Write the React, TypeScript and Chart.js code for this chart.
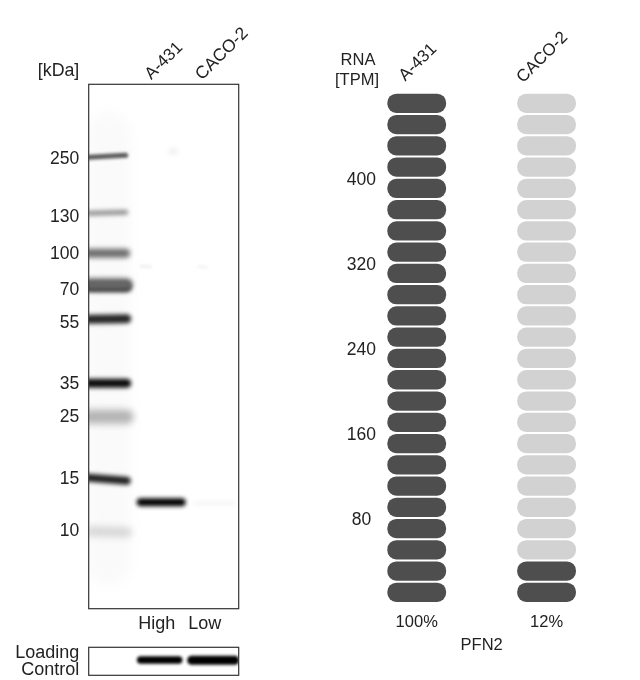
import React, { useEffect, useRef } from "react";
import { Chart, registerables } from "chart.js";

Chart.register(...registerables);

// ---- Western blot data (migration distance down the membrane, lane position across it)
const kdaLabels = ["250", "130", "100", "70", "55", "35", "25", "15", "10"];
const kdaMigration = [73.7, 131.7, 168.4, 204.7, 237.4, 298.7, 331.4, 394, 445.7];
const loadLanes = ["High", "Low"];
const loadLanePositions = [68, 116];

const bandNames = ["250", "130", "100", "70a", "70b", "55", "35", "25", "15", "10", "PFN2 A-431", "PFN2 CACO-2", "88a", "88b", "spot", "smear"];
const bandStart = [0, 0, 0, 0, 0, 0, 0, 0, 0, 2, 52, 106, 52, 110, 83, 20];
const bandEnd = [37, 37, 37, 38, 38, 38, 38, 38, 38, 38, 93, 146, 62, 118, 86, 20];
const bandTopLeft = [73, 129, 169, 200, 203, 235, 299, 332.5, 393.5, 447, 418, 419, 182, 182, 67, 50];
const bandTopRight = [71, 128, 169, 200, 203, 234.5, 299, 332.5, 396.5, 448, 418, 419, 182.5, 183, 67, 480];

const loadStart = [52, 103];
const loadEnd = [90, 146];
const loadMigration = [12.7, 13];

// ---- RNA data
const cellLines = ["A-431", "CACO-2"];
const rnaTpm = [480, 40];
const rnaPercent = ["100%", "12%"];
const pillTpm = 20;
const pillCount = 24;
const rnaTicks = [80, 160, 240, 320, 400];

// ---- Styles (by band index)
const bandWidths = [5, 5, 9, 12, 9, 9, 9, 14, 8, 10, 8, 2.5, 2.5, 2.5, 7, 44];
const bandShades = ["#5a5a5a", "#929292", "#6e6e6e", "#666666", "#222222", "#262626", "#0c0c0c", "#b4b4b4", "#202020", "#d6d6d6", "#000000", "#f0f0f0", "#ececec", "#f2f2f2", "#f2f2f2", "#fafafa"];
const bandBlur = [1.5, 2, 2.5, 2.5, 2, 2, 2, 3.5, 2, 3.5, 1.9, 2, 1.5, 1.5, 2, 6];

const FONT = "'Liberation Sans', Arial, sans-serif";
const TEXT = "#222222";

type Txt = { t: string; x: number; y: number; size?: number; align?: CanvasTextAlign; rot?: number };

const textPlugin = {
  id: "textOverlay",
  afterDraw(chart: any, _a: any, opts: any) {
    const { ctx } = chart;
    (opts.items as Txt[]).forEach((it) => {
      ctx.save();
      ctx.font = `${it.size || 16.5}px ${FONT}`;
      ctx.fillStyle = TEXT;
      ctx.textBaseline = "middle";
      ctx.textAlign = it.align || "center";
      ctx.translate(it.x, it.y);
      if (it.rot) ctx.rotate((it.rot * Math.PI) / 180);
      ctx.fillText(it.t, 0, 0);
      ctx.restore();
    });
  },
};

const framePlugin = {
  id: "panelFrame",
  afterDraw(chart: any) {
    const { ctx, chartArea: a } = chart;
    ctx.save();
    ctx.strokeStyle = "#333333";
    ctx.lineWidth = 1.2;
    ctx.strokeRect(a.left, a.top, a.right - a.left, a.bottom - a.top);
    ctx.restore();
  },
};

const blurPlugin = {
  id: "bandBlur",
  beforeDatasetDraw(chart: any, args: any) {
    const b = chart.data.datasets[args.index].blur;
    chart.ctx.save();
    chart.ctx.filter = `blur(${b}px)`;
  },
  afterDatasetDraw(chart: any) {
    chart.ctx.restore();
  },
};

const font = (size: number) => ({ family: FONT, size });

function useChart(make: (c: HTMLCanvasElement) => Chart) {
  const ref = useRef<HTMLCanvasElement>(null);
  useEffect(() => {
    document.body.style.margin = "0";
    const c = make(ref.current!);
    return () => c.destroy();
  }, []);
  return ref;
}

function blotChart(canvas: HTMLCanvasElement) {
  return new Chart(canvas, {
    type: "line",
    data: {
      datasets: bandNames.map((label, i) => ({
        label,
        data: [
          { x: bandStart[i], y: bandTopLeft[i] },
          { x: bandEnd[i], y: bandTopRight[i] },
        ],
        borderColor: bandShades[i],
        borderWidth: bandWidths[i],
        borderCapStyle: "round" as const,
        pointRadius: 0,
        blur: bandBlur[i],
      })) as any,
    },
    plugins: [blurPlugin, framePlugin, textPlugin],
    options: {
      animation: false,
      responsive: false,
      layout: { padding: { left: 0, right: 61.3, top: 84.3, bottom: 0 } },
      scales: {
        x: {
          type: "linear",
          min: 0,
          max: 150,
          grid: { display: false, drawTicks: false },
          border: { display: false },
          afterBuildTicks: (s: any) => {
            s.ticks = loadLanePositions.map((value) => ({ value }));
          },
          afterFit: (s: any) => {
            s.height = 31.3;
          },
          ticks: {
            autoSkip: false,
            maxRotation: 0,
            padding: 5,
            font: font(18),
            color: TEXT,
            callback: (_v: any, i: number) => loadLanes[i],
          },
        },
        y: {
          type: "linear",
          reverse: true,
          min: 0,
          max: 524.4,
          grid: { display: false, drawTicks: false },
          border: { display: false },
          afterBuildTicks: (s: any) => {
            s.ticks = kdaMigration.map((value) => ({ value }));
          },
          afterFit: (s: any) => {
            s.width = 88.7;
          },
          ticks: {
            autoSkip: false,
            padding: 9.4,
            labelOffset: 1.2,
            font: font(17.5),
            color: TEXT,
            callback: (_v: any, i: number) => kdaLabels[i],
          },
        },
      },
      plugins: {
        legend: { display: false },
        tooltip: { enabled: false },
        textOverlay: {
          items: [
            { t: "[kDa]", x: 79.3, y: 71, align: "right", size: 17.8 },
            { t: cellLines[0], x: 164, y: 61, rot: -45, size: 17 },
            { t: cellLines[1], x: 222, y: 54, rot: -45, size: 17.5 },
          ],
        },
      } as any,
    },
  } as any);
}

function loadingChart(canvas: HTMLCanvasElement) {
  return new Chart(canvas, {
    type: "line",
    data: {
      datasets: loadLanes.map((label, i) => ({
        label,
        data: [
          { x: loadStart[i], y: loadMigration[i] },
          { x: loadEnd[i], y: loadMigration[i] },
        ],
        borderColor: "#000000",
        borderWidth: i === 0 ? 7.5 : 9,
        borderCapStyle: "round" as const,
        pointRadius: 0,
        blur: 1.8,
      })) as any,
    },
    plugins: [blurPlugin, framePlugin, textPlugin],
    options: {
      animation: false,
      responsive: false,
      layout: { padding: { left: 88.7, right: 61.3, top: 7.3, bottom: 4.7 } },
      scales: {
        x: { type: "linear", min: 0, max: 150, display: false },
        y: { type: "linear", reverse: true, min: 0, max: 28, display: false },
      },
      plugins: {
        legend: { display: false },
        tooltip: { enabled: false },
        textOverlay: {
          items: [
            { t: "Loading", x: 79.3, y: 13.5, align: "right", size: 18 },
            { t: "Control", x: 79.3, y: 30.5, align: "right", size: 18 },
          ],
        },
      } as any,
    },
  } as any);
}

function rnaChart(canvas: HTMLCanvasElement) {
  const datasets = Array.from({ length: pillCount }, (_, k) => ({
    label: `pill ${k + 1}`,
    data: rnaTpm.map(() => [k * pillTpm, (k + 1) * pillTpm]),
    backgroundColor: rnaTpm.map((v) => ((k + 1) * pillTpm <= v ? "#4e4e4e" : "#d2d2d2")),
    borderColor: "#ffffff",
    borderWidth: 1,
    borderSkipped: false as const,
    borderRadius: 10,
    barPercentage: 0.468,
    categoryPercentage: 1,
    grouped: false,
  }));
  return new Chart(canvas, {
    type: "bar",
    data: { labels: cellLines, datasets },
    plugins: [textPlugin],
    options: {
      animation: false,
      responsive: false,
      layout: { padding: { left: 31.8, right: 28.5, top: 92.7, bottom: 25 } },
      scales: {
        x: {
          grid: { display: false, drawTicks: false },
          border: { display: false },
          afterFit: (s: any) => {
            s.height = 52;
          },
          title: { display: true, text: "PFN2", font: font(16.5), color: TEXT, padding: { top: 3, bottom: 0 } },
          ticks: {
            maxRotation: 0,
            padding: 10,
            font: font(16.5),
            color: TEXT,
            callback: (_v: any, i: number) => rnaPercent[i],
          },
        },
        y: {
          min: 0,
          max: pillCount * pillTpm,
          grid: { display: false, drawTicks: false },
          border: { display: false },
          afterBuildTicks: (s: any) => {
            s.ticks = rnaTicks.map((value) => ({ value }));
          },
          afterFit: (s: any) => {
            s.width = 0;
          },
          ticks: {
            autoSkip: false,
            mirror: true,
            crossAlign: "center",
            padding: -5,
            labelOffset: 2.5,
            font: font(17.5),
            color: TEXT,
          },
        },
      },
      plugins: {
        legend: { display: false },
        tooltip: { enabled: false },
        textOverlay: {
          items: [
            { t: "RNA", x: 38, y: 60, size: 16.5 },
            { t: "[TPM]", x: 37, y: 80, size: 16.5 },
            { t: cellLines[0], x: 98, y: 62.5, rot: -45, size: 17 },
            { t: cellLines[1], x: 222.5, y: 57.5, rot: -45, size: 17 },
          ],
        },
      } as any,
    },
  } as any);
}

export default function App() {
  const blot = useChart(blotChart);
  const load = useChart(loadingChart);
  const rna = useChart(rnaChart);
  const abs = (left: number, top: number): React.CSSProperties => ({ position: "absolute", left, top, display: "block" });
  return (
    <div style={{ position: "relative", width: 640, height: 680, background: "#fff", overflow: "hidden" }}>
      <canvas ref={blot} width={300} height={640} style={abs(0, 0)} />
      <canvas ref={load} width={300} height={40} style={abs(0, 640)} />
      <canvas ref={rna} width={320} height={680} style={abs(320, 0)} />
    </div>
  );
}
